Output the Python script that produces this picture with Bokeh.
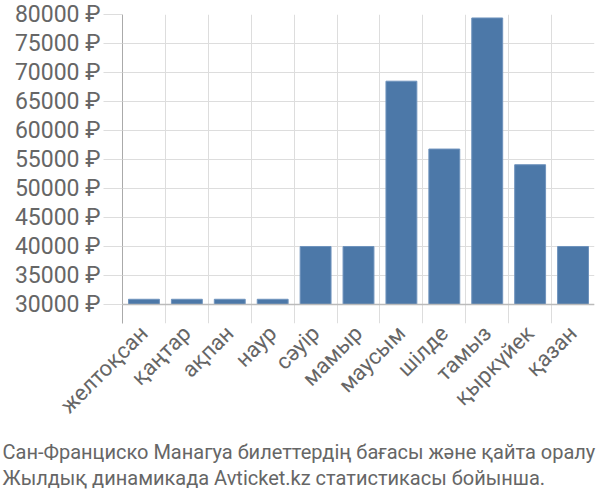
from math import pi
from bokeh.plotting import figure
from bokeh.models import Range1d, FixedTicker, PrintfTickFormatter, Span, Title
from bokeh.embed import file_html
from bokeh.resources import INLINE

months = ["желтоқсан", "қаңтар", "ақпан", "наур", "сәуір", "мамыр",
          "маусым", "шілде", "тамыз", "қыркүйек", "қазан"]
prices = [30900, 30900, 30900, 30900, 40000, 40000,
          68500, 56800, 79400, 54100, 40000]
y_ticks = [30000, 35000, 40000, 45000, 50000, 55000, 60000, 65000, 70000, 75000, 80000]
title_lines = ["Сан-Франциско Манагуа билеттердің бағасы және қайта оралу",
               "Жылдық динамикада Avticket.kz статистикасы бойынша."]

FONT = "Roboto"
TXT = "#666666"
base = y_ticks[0]

p = figure(width=600, height=500, output_backend="svg", toolbar_location=None,
           x_range=Range1d(0, len(months)), y_range=Range1d(26724, y_ticks[-1]),
           min_border_left=122, min_border_right=6, min_border_top=14, min_border_bottom=177)
p.outline_line_color = None

xs = [i + 0.5 for i in range(len(months))]
p.vbar(x=xs, width=0.72, top=prices, bottom=base,
       fill_color="#4c78a8", line_color="#6f93bd", line_width=1)

# grids
p.xgrid.ticker = FixedTicker(ticks=list(range(len(months) + 1)))
p.ygrid.ticker = FixedTicker(ticks=y_ticks)
p.xgrid.grid_line_color = "#dddddd"
p.ygrid.grid_line_color = "#dddddd"
p.xgrid.grid_line_width = 1
p.ygrid.grid_line_width = 1

# baseline
p.add_layout(Span(location=base, dimension="width", line_color="#bbbbbb", line_width=1.5))

# y axis
ya = p.yaxis[0]
ya.ticker = FixedTicker(ticks=y_ticks)
ya.formatter = PrintfTickFormatter(format="%d ₽")
ya.axis_line_color = "#aaaaaa"
ya.major_tick_out = 19
ya.major_tick_in = 0
ya.major_tick_line_color = "#dddddd"
ya.minor_tick_line_color = None
ya.major_label_standoff = 3
ya.major_label_text_font = FONT
ya.major_label_text_font_size = "23px"
ya.major_label_text_color = TXT

# x axis
xa = p.xaxis[0]
xa.ticker = FixedTicker(ticks=xs)
xa.major_label_overrides = {x: m for x, m in zip(xs, months)}
xa.axis_line_color = None
xa.major_tick_line_color = None
xa.minor_tick_line_color = None
xa.major_label_orientation = pi / 4
xa.major_label_standoff = 0
xa.major_label_text_font = FONT
xa.major_label_text_font_size = "22px"
xa.major_label_text_color = TXT

# small spacer between axis labels and the caption
p.add_layout(Title(text=" ", text_font_size="5px", standoff=0), "below")
for line in title_lines:
    p.add_layout(Title(text=line, align="left", text_font=FONT, text_font_size="20px",
                       text_font_style="normal", text_color=TXT, offset=-120,
                       standoff=0), "below")

open("out.html", "w").write(file_html(p, INLINE))
